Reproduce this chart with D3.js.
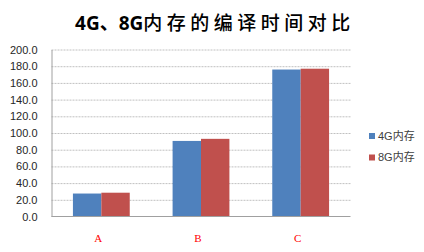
<!DOCTYPE html>
<html>
<head>
<meta charset="utf-8">
<script src="https://cdn.jsdelivr.net/npm/d3@7"></script>
<style>
  html, body { margin: 0; padding: 0; background: #fff; }
  svg { display: block; }
</style>
</head>
<body>
<svg id="chart" width="424" height="252"></svg>
<script>
// Compile time comparison, 4G vs 8G memory
const categories = ["A", "B", "C"];
const seriesNames = ["4G内存", "8G内存"];
const mem4G = [27.5, 90.5, 176.0];
const mem8G = [28.5, 93.0, 177.0];
const yTicks = [0, 20, 40, 60, 80, 100, 120, 140, 160, 180, 200];
const seriesColors = ["#4f81bd", "#c0504d"];

const svg = d3.select("#chart");
const plot = { left: 51.5, right: 350.5, top: 49.5, bottom: 216.5 };

const y = d3.scaleLinear().domain([0, 200]).range([plot.bottom, plot.top]);
const x0 = d3.scaleBand().domain(categories)
  .range([plot.left, plot.right]).paddingInner(0.43).paddingOuter(0.215);
const x1 = d3.scaleBand().domain(seriesNames).range([0, x0.bandwidth()]);
const color = d3.scaleOrdinal().domain(seriesNames).range(seriesColors);

// Title
const title = svg.append("text")
  .attr("x", 215).attr("y", 30)
  .attr("text-anchor", "middle")
  .style("fill", "#000");
title.append("tspan")
  .style("font-family", "'Noto Sans', 'Noto Sans CJK SC', sans-serif")
  .style("font-weight", "bold").style("font-size", "19px")
  .text("4G、8G");
title.append("tspan")
  .style("font-family", "'Noto Sans CJK SC', sans-serif")
  .style("font-weight", "500").style("font-size", "19px")
  .style("letter-spacing", "4.5px")
  .text("内存的编译时间对比");

// Gridlines
svg.append("g")
  .attr("transform", `translate(${plot.left},0)`)
  .call(d3.axisLeft(y).tickValues(yTicks.filter(d => d > 0))
    .tickSize(-(plot.right - plot.left)).tickFormat(""))
  .call(g => g.select(".domain").remove())
  .call(g => g.selectAll(".tick line")
    .attr("stroke", "#c0c0c0").attr("stroke-dasharray", "2,1"));

// Y axis
svg.append("g")
  .attr("transform", `translate(${plot.left},0)`)
  .call(d3.axisLeft(y).tickValues(yTicks).tickSize(0).tickPadding(14)
    .tickFormat(d3.format(".1f")))
  .call(g => g.select(".domain").attr("stroke", "#a0a0a0"))
  .call(g => g.selectAll(".tick text")
    .style("font-family", "'Liberation Sans', Arial, sans-serif")
    .style("font-size", "11px").attr("fill", "#262626"));

// Bars
const rows = categories.map((c, i) => ({ cat: c, values: [mem4G[i], mem8G[i]] }));
svg.append("g").selectAll("g")
  .data(rows).join("g")
  .attr("transform", d => `translate(${x0(d.cat)},0)`)
  .selectAll("rect")
  .data(d => d.values.map((v, j) => ({ key: seriesNames[j], value: v })))
  .join("rect")
  .attr("x", d => x1(d.key))
  .attr("y", d => y(d.value))
  .attr("width", x1.bandwidth())
  .attr("height", d => y(0) - y(d.value))
  .attr("fill", d => color(d.key));

// Baseline
svg.append("line")
  .attr("x1", plot.left).attr("x2", plot.right)
  .attr("y1", y(0)).attr("y2", y(0))
  .attr("stroke", "#a0a0a0");

// Category labels
svg.append("g").selectAll("text")
  .data(categories).join("text")
  .attr("x", d => x0(d) + x0.bandwidth() / 2 - 3)
  .attr("y", 242)
  .attr("text-anchor", "middle")
  .style("font-family", "'Liberation Serif', serif")
  .style("font-size", "11px")
  .attr("fill", "#ff0000")
  .text(d => d);

// Legend
const legend = svg.append("g").selectAll("g")
  .data(seriesNames).join("g")
  .attr("transform", (d, i) => `translate(369,${133 + i * 21.5})`);
legend.append("rect")
  .attr("width", 6).attr("height", 6)
  .attr("fill", d => color(d));
legend.append("text")
  .attr("x", 9).attr("y", 6.5)
  .style("font-family", "'Liberation Sans', 'Noto Sans CJK SC', sans-serif")
  .style("font-size", "11px")
  .attr("fill", "#404040")
  .text(d => d);
</script>
</body>
</html>
